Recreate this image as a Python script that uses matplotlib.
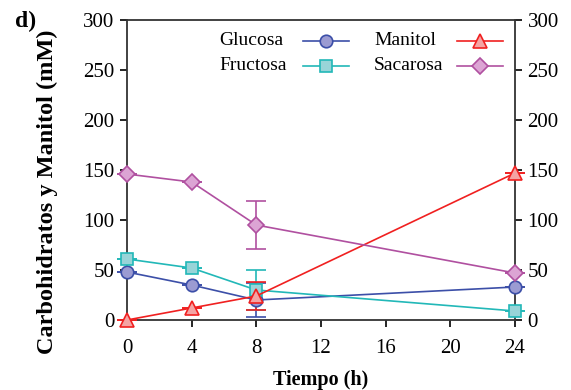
import numpy as np
import matplotlib.pyplot as plt

plt.rcParams['font.family'] = ['Liberation Serif', 'DejaVu Serif']

tiempo = [0, 4, 8, 24]
glucosa = [48, 35, 20, 33]
fructosa = [61, 52, 30, 9]
manitol = [0, 12, 24, 147]
sacarosa = [146, 138, 95, 47]

err_glucosa = [0, 0, 17, 0]
err_fructosa = [0, 0, 20, 0]
err_manitol = [0, 0, 14, 0]
err_sacarosa = [0, 0, 24, 0]

series = [
    ("Glucosa", glucosa, err_glucosa, "o", "#3c4fa8", "#9b9bd2", 9),
    ("Fructosa", fructosa, err_fructosa, "s", "#22b8b8", "#98d4d8", 8.5),
    ("Manitol", manitol, err_manitol, "^", "#f02020", "#f4a4a4", 9.5),
    ("Sacarosa", sacarosa, err_sacarosa, "D", "#b050a0", "#dca4d4", 8.5),
]

fig = plt.figure(figsize=(5.71, 3.9), dpi=100)
ax = fig.add_axes([0.2224, 0.1795, 0.6795, 0.769])

for name, vals, err, mk, lc, fc, ms in series:
    ax.errorbar(tiempo, vals, yerr=err, color=lc, marker=mk, markersize=ms,
                markerfacecolor=fc, markeredgecolor=lc, markeredgewidth=1.2,
                linewidth=1.2, capsize=7, elinewidth=1.2, label=name,
                clip_on=False, zorder=3)

ax.set_xlim(0, 24)
ax.set_ylim(0, 300)
ax.set_xticks([0, 4, 8, 12, 16, 20, 24])
ax.set_yticks(np.arange(0, 301, 50))
ax.tick_params(direction='out', labelsize=15, length=5, width=1.2)
ax.tick_params(axis='x', pad=9)
ax.tick_params(axis='y', right=True, labelright=True, pad=4)
for s in ax.spines.values():
    s.set_linewidth(1.3)
    s.set_color('#333333')

ax.set_xlabel("Tiempo (h)", fontsize=14.5, fontweight='bold', labelpad=8)
ax.set_ylabel("Carbohidratos y Manitol (mM)", fontsize=17.5,
              fontweight='bold')
ax.yaxis.set_label_coords(-0.178, 0.427)

# legend: two columns, label left-aligned, key to the right
col_text_x = [0.237, 0.637]
col_key_x = [(0.4536, 0.572), (0.851, 0.969)]
row_y = [0.931, 0.847]
for i, (name, vals, err, mk, lc, fc, ms) in enumerate(series):
    c, r = divmod(i, 2)
    y = row_y[r]
    ax.text(col_text_x[c], y, name, transform=ax.transAxes, fontsize=14,
            va='center', ha='left')
    x0, x1 = col_key_x[c]
    ax.plot([x0, x1], [y, y], color=lc, linewidth=1.2,
            transform=ax.transAxes, clip_on=False)
    ax.plot([(x0 + x1) / 2], [y], marker=mk, markersize=ms, color=lc,
            markerfacecolor=fc, markeredgewidth=1.2,
            transform=ax.transAxes, clip_on=False)

fig.text(0.026, 0.93, "d)", fontsize=17, fontweight='bold')

fig.savefig("out.png", dpi=100)
